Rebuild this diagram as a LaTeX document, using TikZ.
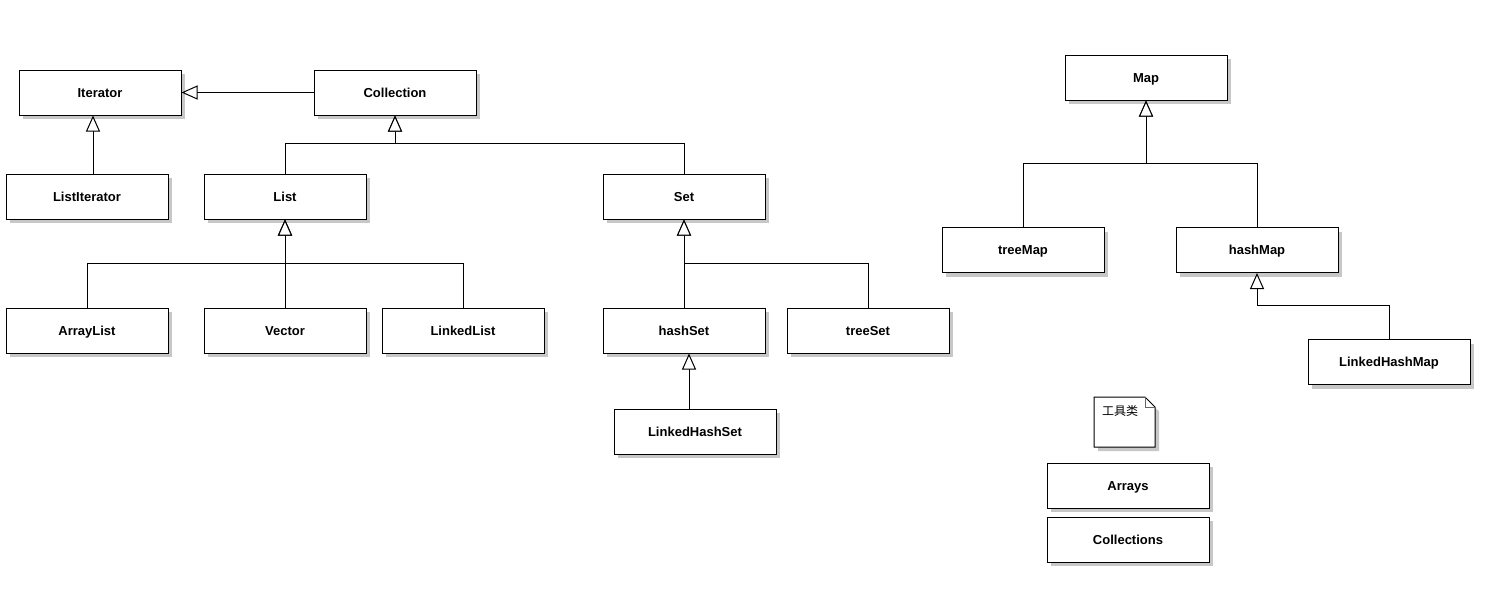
\documentclass[tikz,border=0pt]{standalone}
\usepackage{fontspec}
\setmainfont{Liberation Sans}
\newfontfamily\cjk{Noto Sans CJK SC}
\usetikzlibrary{arrows.meta,shadows}
\begin{document}
\begin{tikzpicture}[x=1pt,y=-1pt,
  cls/.style={draw=black, line width=1pt, fill=white, minimum width=162pt, minimum height=45pt,
    inner sep=0pt, text height=9.5pt, text depth=0pt, font=\fontsize{13}{15}\selectfont\bfseries,
    drop shadow={shadow xshift=4pt, shadow yshift=-4pt, fill=black!22, opacity=1}},
  inh/.style={draw=black, line width=1pt, -{Triangle[length=16pt, width=14pt, fill=white, line width=1pt]}},
  link/.style={draw=black, line width=1pt}]
\useasboundingbox (0,0) rectangle (1502,595);

% collection hierarchy
\node[cls] (Iterator) at (100,92.5) {Iterator};
\node[cls] (Collection) at (395,92.5) {Collection};
\node[cls] (ListIterator) at (87,196.5) {ListIterator};
\node[cls] (List) at (285,196.5) {List};
\node[cls] (Set) at (684,196.5) {Set};
\node[cls] (ArrayList) at (87,330.5) {ArrayList};
\node[cls] (Vector) at (285,330.5) {Vector};
\node[cls] (LinkedList) at (463,330.5) {LinkedList};
\node[cls] (hashSet) at (684,330.5) {hashSet};
\node[cls] (treeSet) at (868,330.5) {treeSet};
\node[cls] (LinkedHashSet) at (695,431.5) {LinkedHashSet};

% map hierarchy
\node[cls] (Map) at (1146,77.5) {Map};
\node[cls] (treeMap) at (1023,250) {treeMap};
\node[cls] (hashMap) at (1257,250) {hashMap};
\node[cls] (LinkedHashMap) at (1389,362) {LinkedHashMap};

% utility classes
\node[cls] (Arrays) at (1128,485.5) {Arrays};
\node[cls] (Collections) at (1128,539.5) {Collections};

% note with folded corner
\fill[black!22] (1098,401) -- (1145,401) -- (1159,411) -- (1159,451) -- (1098,451) -- cycle;
\draw[line width=1pt, fill=white] (1094,397) -- (1145,397) -- (1155,407) -- (1155,447) -- (1094,447) -- cycle;
\draw[line width=0.6pt, draw=black!60] (1145,397) -- (1145,407) -- (1155,407);
\node[font=\cjk\fontsize{12}{14}\selectfont, anchor=north west, inner sep=0pt] (note) at (1102,405) {工具类};

% junction points
\coordinate (jColl) at (395,143);
\coordinate (jList) at (285,263);
\coordinate (jSet) at (684,263);
\coordinate (jMap) at (1146,163);
\coordinate (jHMap) at (1257,305);

% generalisation connectors
\draw[inh] (Collection.west) -- (Iterator.east);
\draw[inh] (ListIterator.north -| 93,0) -- (Iterator.south -| 93,0);
\draw[inh] (List.north) |- (jColl) -- (Collection.south);
\draw[inh] (Set.north) |- (jColl) -- (Collection.south);
\draw[inh] (ArrayList.north) |- (jList) -- (List.south);
\draw[inh] (Vector.north) -- (List.south);
\draw[inh] (LinkedList.north) |- (jList) -- (List.south);
\draw[inh] (hashSet.north) -- (Set.south);
\draw[inh] (treeSet.north) |- (jSet) -- (Set.south);
\draw[inh] (LinkedHashSet.north -| 689,0) -- (hashSet.south -| 689,0);
\draw[inh] (treeMap.north) |- (jMap) -- (Map.south);
\draw[inh] (hashMap.north) |- (jMap) -- (Map.south);
\draw[inh] (LinkedHashMap.north) |- (jHMap) -- (hashMap.south);
\end{tikzpicture}
\end{document}
